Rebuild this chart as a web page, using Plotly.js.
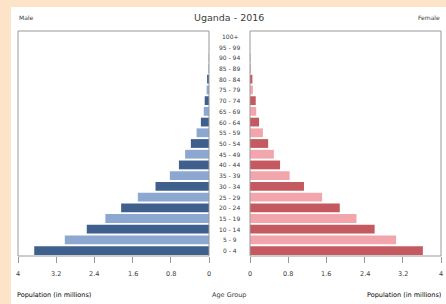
<!DOCTYPE html>
<html><head><meta charset="utf-8">
<script src="https://cdn.plot.ly/plotly-3.0.1.min.js"></script>
<style>html,body{margin:0;padding:0;background:#fde4c8}</style>
</head><body><div id="chart" style="width:446px;height:304px"></div>
<script>
var ageGroups = ["0 - 4","5 - 9","10 - 14","15 - 19","20 - 24","25 - 29","30 - 34","35 - 39","40 - 44","45 - 49","50 - 54","55 - 59","60 - 64","65 - 69","70 - 74","75 - 79","80 - 84","85 - 89","90 - 94","95 - 99","100+"];
var male   = [3.66,3.02,2.56,2.17,1.84,1.49,1.12,0.82,0.63,0.50,0.38,0.26,0.17,0.11,0.09,0.05,0.04,0.012,0.004,0.001,0.0005];
var female = [3.62,3.06,2.61,2.23,1.88,1.51,1.13,0.83,0.63,0.50,0.38,0.27,0.19,0.13,0.12,0.06,0.05,0.018,0.006,0.002,0.0005];
var tickVals = [0,0.8,1.6,2.4,3.2,4];
var tickText = ["0","0.8","1.6","2.4","3.2","4"];
var chartTitle = "Uganda - 2016";
var axisLabel = "Population (in millions)";

var W=446,H=304;
function px(x){return x/W;}
function py(y){return 1-y/H;}

var maleColors = ageGroups.map(function(_,i){return i%2===0?'#3f5f8c':'#8ca8d0';});
var femaleColors = ageGroups.map(function(_,i){return i%2===0?'#c4595f':'#f2a6ab';});

var traces = [
 {type:'bar',orientation:'h',y:ageGroups,x:male,xaxis:'x',yaxis:'y',marker:{color:maleColors},hoverinfo:'skip'},
 {type:'bar',orientation:'h',y:ageGroups,x:female,xaxis:'x2',yaxis:'y',marker:{color:femaleColors},hoverinfo:'skip'}
];
var txtColor = 'rgb(60,60,60)';
var axCommon = {tickvals:tickVals,ticks:'outside',ticklen:6,tickcolor:'#999',showticklabels:false,
  showgrid:false,zeroline:false,showline:false,fixedrange:true};
var layout = {
  width:W,height:H,margin:{l:0,r:0,t:0,b:0},
  paper_bgcolor:'#fde4c8',plot_bgcolor:'rgba(0,0,0,0)',
  showlegend:false,bargap:0.18,
  xaxis:Object.assign({domain:[px(18),px(209)],range:[4,0],anchor:'y'},axCommon),
  xaxis2:Object.assign({domain:[px(250),px(441)],range:[0,4],anchor:'y'},axCommon),
  yaxis:{domain:[py(256),py(31)],type:'category',showticklabels:false,ticks:'',showgrid:false,zeroline:false,range:[-0.5,20.5]},
  shapes:[
    {type:'rect',layer:'below',xref:'paper',yref:'paper',x0:px(11),x1:1,y0:0,y1:py(7),fillcolor:'#ffffff',line:{width:0}},
    {type:'rect',layer:'above',xref:'x domain',yref:'y domain',x0:0,x1:1,y0:0,y1:1,line:{color:'#999',width:1}},
    {type:'rect',layer:'above',xref:'x2 domain',yref:'y domain',x0:0,x1:1,y0:0,y1:1,line:{color:'#999',width:1}}
  ],
  annotations:[]
};
function ann(x,y,text,anchor,size,col){
  return {xref:'paper',yref:'paper',x:x,y:y,text:text,showarrow:false,xanchor:anchor,yanchor:'middle',
    font:{family:'DejaVu Sans',size:size,color:col||txtColor}};
}
ageGroups.forEach(function(g){
  layout.annotations.push({xref:'paper',yref:'y',x:px(229.5),y:g,text:g,showarrow:false,xanchor:'center',yanchor:'middle',font:{family:'DejaVu Sans',size:6,color:txtColor}});
});
['x','x2'].forEach(function(ax){
  tickVals.forEach(function(v,i){
    layout.annotations.push({xref:ax,yref:'paper',x:v,y:py(274),text:tickText[i],showarrow:false,xanchor:'center',yanchor:'middle',font:{family:'DejaVu Sans',size:6.5,color:txtColor}});
  });
});
layout.annotations.push(ann(px(229),py(17),chartTitle,'center',9.5));
layout.annotations.push(ann(px(17),py(17),'Male','left',6));
layout.annotations.push(ann(px(442),py(17),'Female','right',6));
layout.annotations.push(ann(px(15),py(295),axisLabel,'left',6.5,'#000000'));
layout.annotations.push(ann(px(229),py(295),'Age Group','center',6.5));
layout.annotations.push(ann(px(443),py(295),axisLabel,'right',6.5,'#000000'));
Plotly.newPlot('chart',traces,layout,{displayModeBar:false,staticPlot:true});
</script></body></html>
